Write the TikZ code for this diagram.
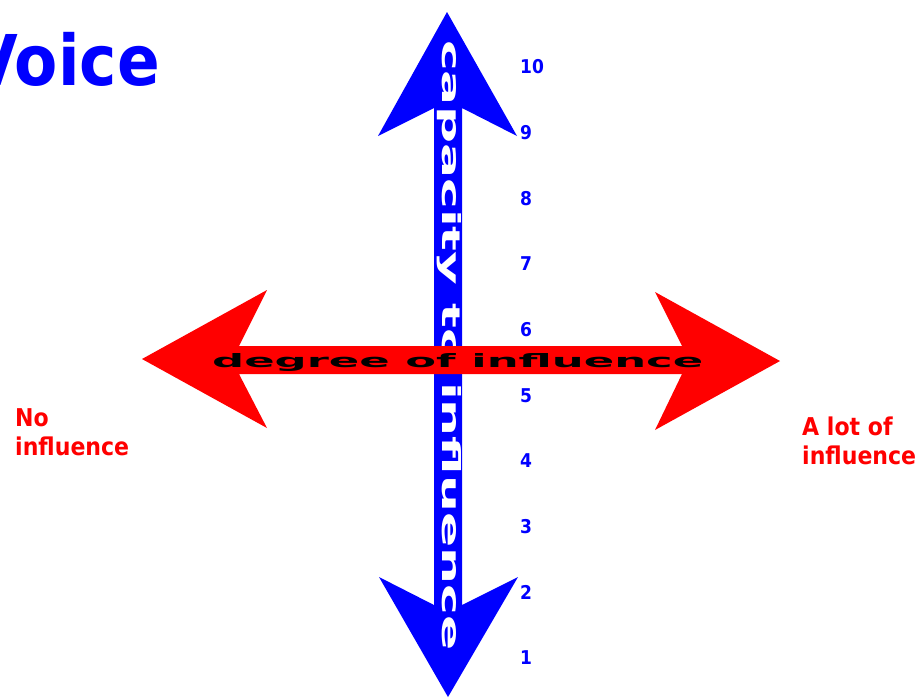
\documentclass[tikz,border=0pt]{standalone}
\usepackage{fontspec}
\usepackage{graphicx}
\newfontfamily\tahoma{DejaVu Sans}[FakeStretch=0.9]
\definecolor{voiceblue}{RGB}{0,0,255}
\definecolor{voicered}{RGB}{255,0,0}
\tikzset{
    axislabel/.style={text=voicered,font=\tahoma\bfseries\fontsize{24.5}{29}\selectfont,align=left,inner sep=0pt,anchor=north west},
    ticknum/.style={text=voiceblue,font=\tahoma\bfseries\fontsize{19}{19}\selectfont,inner sep=0pt,anchor=west},
    barlabel/.style={inner sep=0pt,font=\tahoma\bfseries}
}

\begin{document}
\begin{tikzpicture}[x=1pt,y=-1pt]
    \clip (0,0) rectangle (917,697);

    % title
    \node[text=voiceblue,font=\tahoma\bfseries\fontsize{70}{70}\selectfont,inner sep=0pt,anchor=base east] (title) at (160,85) {Voice};

    % vertical arrow: capacity
    \fill[voiceblue] (447,12) -- (517,136) -- (462,108) -- (462,605) -- (518,577) -- (448,697)
        -- (379,577) -- (434,605) -- (434,108) -- (378,136) -- cycle;
    \node[barlabel,text=white,rotate=-90,anchor=base west] (capacity) at (442,40)
        {\resizebox{610pt}{19pt}{capacity to influence}};

    % horizontal arrow: degree
    \fill[voicered] (142,359) -- (267,290) -- (239,346) -- (682,346) -- (655,292) -- (780,361)
        -- (655,430) -- (682,374) -- (239,374) -- (267,428) -- cycle;
    \node[barlabel,text=black,anchor=base west] (degree) at (212,367)
        {\resizebox{491pt}{14pt}{degree of influence}};

    % end labels
    \node[axislabel] (none) at (15,408) {No\\influence};
    \node[axislabel] (alot) at (802,417) {A lot of\\influence};

    % scale 1..10
    \foreach \n in {1,...,10}
        \node[ticknum] (num\n) at (520,{658-(\n-1)*65.7}) {\n};
\end{tikzpicture}
\end{document}
